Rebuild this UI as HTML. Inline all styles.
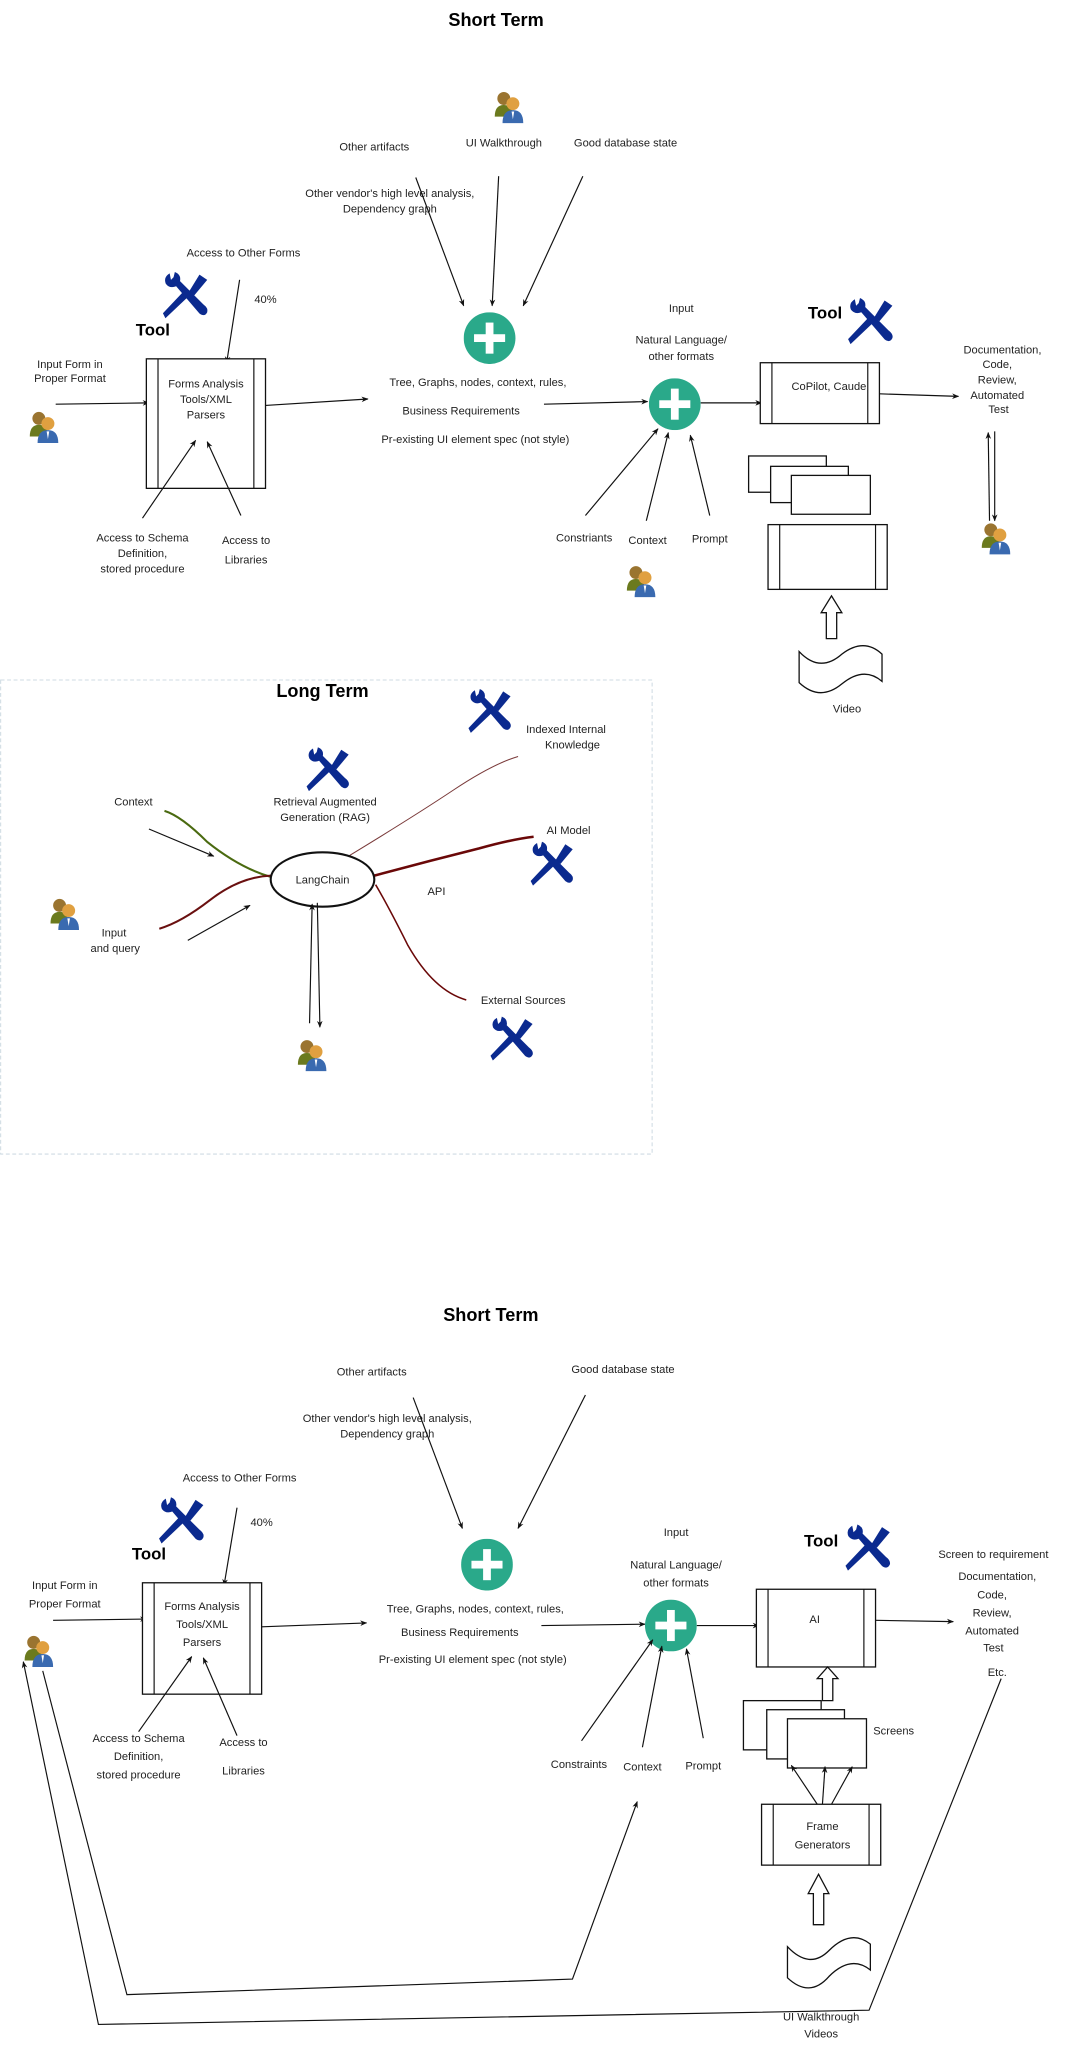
<!DOCTYPE html>
<html><head><meta charset="utf-8"><style>
html,body{margin:0;padding:0;background:#fff;}
svg{display:block;}
text{font-family:"Liberation Sans",sans-serif;font-size:8.6px;fill:#222;text-anchor:middle;}
.t{font-weight:bold;font-size:14px;fill:#000;}
.tool{font-weight:bold;font-size:13px;fill:#000;}
.ln{stroke:#111;stroke-width:0.9;fill:none;}
.bx{stroke:#111;stroke-width:1;fill:#fff;}
</style></head><body>
<svg width="1075" height="2053" viewBox="0 0 830 1585" xmlns="http://www.w3.org/2000/svg">
<defs>
<marker id="ah" viewBox="0 0 10 10" refX="9" refY="5" markerWidth="6" markerHeight="6" orient="auto"><path d="M0,1 L10,5 L0,9 L3,5 z" fill="#111"/></marker>
<symbol id="user" viewBox="0 0 24 26"><circle cx="8" cy="6" r="5" fill="#9a7430"/><path d="M1,20 Q1,11 8,11 Q15,11 15,20 z" fill="#6b7a1e"/><circle cx="15" cy="10" r="5" fill="#e0a040"/><path d="M7,25 Q7,15 15,15 Q23,15 23,25 z" fill="#3a6ab0"/><path d="M14,16 L15,22 L16,16z" fill="#fff"/></symbol>
<symbol id="tool" viewBox="0 0 40 40"><path d="M30,4 L36,8 L26,20 L22,17 z" fill="#0b2a8f"/><path d="M23,18 L4,36 L3,34 L20,16 z" fill="#0b2a8f" stroke="#0b2a8f" stroke-width="2"/><path d="M7,3 Q2,6 4,11 Q7,15 12,13 L30,34 Q34,37 36,33 Q37,30 33,27 L15,9 Q16,4 11,2 L10,6 L8,8 z" fill="#0b2a8f"/></symbol>
<symbol id="plus" viewBox="0 0 40 40"><circle cx="20" cy="20" r="20" fill="#2aa98a"/><rect x="17" y="8" width="6" height="24" fill="#fff"/><rect x="8" y="17" width="24" height="6" fill="#fff"/></symbol>
</defs>

<!-- TOP SHORT TERM -->
<g>
<text x="383" y="20" class="t">Short Term</text>
<use href="#user" x="381" y="70" width="24" height="26"/>
<text x="289" y="116">Other artifacts</text>
<text x="389" y="113">UI Walkthrough</text>
<text x="483" y="113">Good database state</text>
<text x="301" y="152">Other vendor's high level analysis,</text>
<text x="301" y="164">Dependency graph</text>
<line class="ln" x1="321" y1="137" x2="358" y2="236" marker-end="url(#ah)"/>
<line class="ln" x1="385" y1="136" x2="380" y2="236" marker-end="url(#ah)"/>
<line class="ln" x1="450" y1="136" x2="404" y2="236" marker-end="url(#ah)"/>
<use href="#plus" x="358" y="241" width="40" height="40"/>
<text x="188" y="198">Access to Other Forms</text>
<text x="205" y="234">40%</text>
<line class="ln" x1="185" y1="216" x2="175" y2="280" marker-end="url(#ah)"/>
<use href="#tool" x="124" y="208" width="40" height="40"/>
<text x="118" y="259" class="tool">Tool</text>
<text x="54" y="284">Input Form in</text>
<text x="54" y="295">Proper Format</text>
<use href="#user" x="22" y="317" width="24" height="26"/>
<line class="ln" x1="43" y1="312" x2="115" y2="311" marker-end="url(#ah)"/>
<g><rect class="bx" x="113" y="277" width="92" height="100"/><line class="ln" x1="122" y1="277" x2="122" y2="377"/><line class="ln" x1="196" y1="277" x2="196" y2="377"/>
<text x="159" y="299">Forms Analysis</text><text x="159" y="311">Tools/XML</text><text x="159" y="323">Parsers</text></g>
<line class="ln" x1="110" y1="400" x2="151" y2="340" marker-end="url(#ah)"/>
<line class="ln" x1="186" y1="398" x2="160" y2="341" marker-end="url(#ah)"/>
<text x="110" y="418">Access to Schema</text><text x="110" y="430">Definition,</text><text x="110" y="442">stored procedure</text>
<text x="190" y="420">Access to</text><text x="190" y="435">Libraries</text>
<line class="ln" x1="205" y1="313" x2="284" y2="308" marker-end="url(#ah)"/>
<text x="369" y="298">Tree, Graphs, nodes, context, rules,</text>
<text x="356" y="320">Business Requirements</text>
<text x="367" y="342">Pr-existing UI element spec (not style)</text>
<line class="ln" x1="420" y1="312" x2="500" y2="310" marker-end="url(#ah)"/>
<text x="526" y="241">Input</text>
<text x="526" y="265">Natural Language/</text><text x="526" y="278">other formats</text>
<use href="#plus" x="501" y="292" width="40" height="40"/>
<line class="ln" x1="452" y1="398" x2="508" y2="331" marker-end="url(#ah)"/>
<line class="ln" x1="499" y1="402" x2="516" y2="334" marker-end="url(#ah)"/>
<line class="ln" x1="548" y1="398" x2="533" y2="336" marker-end="url(#ah)"/>
<text x="451" y="418">Constriants</text>
<text x="500" y="420">Context</text>
<text x="548" y="419">Prompt</text>
<use href="#user" x="483" y="436" width="24" height="26"/>
<line class="ln" x1="541" y1="311" x2="588" y2="311" marker-end="url(#ah)"/>
<text x="637" y="246" class="tool">Tool</text>
<use href="#tool" x="653" y="228" width="40" height="40"/>
<g><rect class="bx" x="587" y="280" width="92" height="47"/><line class="ln" x1="596" y1="280" x2="596" y2="327"/><line class="ln" x1="670" y1="280" x2="670" y2="327"/><text x="640" y="301">CoPilot, Caude</text></g>
<line class="ln" x1="679" y1="304" x2="740" y2="306" marker-end="url(#ah)"/>
<text x="774" y="273">Documentation,</text><text x="770" y="284">Code,</text><text x="770" y="296">Review,</text><text x="770" y="308">Automated</text><text x="771" y="319">Test</text>
<line class="ln" x1="768" y1="333" x2="768" y2="402" marker-end="url(#ah)"/>
<line class="ln" x1="764" y1="402" x2="763" y2="334" marker-end="url(#ah)"/>
<use href="#user" x="757" y="403" width="24" height="26"/>
<g><rect class="bx" x="578" y="352" width="60" height="28"/><rect class="bx" x="595" y="360" width="60" height="28"/><rect class="bx" x="611" y="367" width="61" height="30"/></g>
<g><rect class="bx" x="593" y="405" width="92" height="50"/><line class="ln" x1="602" y1="405" x2="602" y2="455"/><line class="ln" x1="676" y1="405" x2="676" y2="455"/></g>
<path class="bx" d="M638,493 L638,473 L634,473 L642,460 L650,473 L646,473 L646,493 z"/>
<path class="bx" d="M617,503 Q633,520 650,505 Q667,492 681,505 L681,526 Q667,514 650,528 Q633,542 617,527 z"/>
<text x="654" y="550">Video</text>
</g>

<!-- LONG TERM -->
<g>
<rect x="0.5" y="525" width="503" height="366" fill="none" stroke="#cfdbe3" stroke-width="0.8" stroke-dasharray="3,2"/>
<text x="249" y="538" class="t">Long Term</text>
<use href="#tool" x="360" y="530" width="38" height="38"/>
<text x="437" y="566">Indexed Internal</text><text x="442" y="578">Knowledge</text>
<use href="#tool" x="235" y="575" width="38" height="38"/>
<text x="251" y="622">Retrieval Augmented</text><text x="251" y="634">Generation (RAG)</text>
<text x="103" y="622">Context</text>
<text x="88" y="723">Input</text><text x="89" y="735">and query</text>
<use href="#user" x="38" y="693" width="24" height="26"/>
<path d="M127,626 Q140,630 160,650 Q185,670 209,677" stroke="#4a6a10" stroke-width="1.6" fill="none"/>
<path d="M123,717 Q140,712 162,695 Q185,677 209,676" stroke="#6a1010" stroke-width="1.6" fill="none"/>
<line class="ln" x1="115" y1="640" x2="165" y2="661" marker-end="url(#ah)"/>
<line class="ln" x1="145" y1="726" x2="193" y2="699" marker-end="url(#ah)"/>
<path d="M269,661 Q320,630 350,610 Q380,590 400,584" stroke="#7a3a3a" stroke-width="0.8" fill="none"/>
<path d="M289,676 Q330,665 370,655 Q395,648 412,646" stroke="#6a0808" stroke-width="2" fill="none"/>
<path d="M290,683 Q300,700 315,730 Q335,765 360,772" stroke="#6a0808" stroke-width="1.2" fill="none"/>
<g><ellipse cx="249" cy="679" rx="40" ry="21" fill="#fff" stroke="#111" stroke-width="1.6"/><text x="249" y="682">LangChain</text></g>
<text x="439" y="644">AI Model</text>
<use href="#tool" x="408" y="648" width="38" height="38"/>
<text x="337" y="691">API</text>
<text x="404" y="775">External Sources</text>
<use href="#tool" x="377" y="783" width="38" height="38"/>
<line class="ln" x1="239" y1="790" x2="241" y2="698" marker-end="url(#ah)"/>
<line class="ln" x1="245" y1="697" x2="247" y2="793" marker-end="url(#ah)"/>
<use href="#user" x="229" y="802" width="24" height="26"/>
</g>

<!-- BOTTOM SHORT TERM -->
<g>
<text x="379" y="1020" class="t">Short Term</text>
<text x="287" y="1062">Other artifacts</text>
<text x="481" y="1060">Good database state</text>
<text x="299" y="1098">Other vendor's high level analysis,</text>
<text x="299" y="1110">Dependency graph</text>
<line class="ln" x1="319" y1="1079" x2="357" y2="1180" marker-end="url(#ah)"/>
<line class="ln" x1="452" y1="1077" x2="400" y2="1180" marker-end="url(#ah)"/>
<use href="#plus" x="356" y="1188" width="40" height="40"/>
<text x="185" y="1144">Access to Other Forms</text>
<text x="202" y="1178">40%</text>
<line class="ln" x1="183" y1="1164" x2="173" y2="1224" marker-end="url(#ah)"/>
<use href="#tool" x="121" y="1154" width="40" height="40"/>
<text x="115" y="1204" class="tool">Tool</text>
<text x="50" y="1227">Input Form in</text>
<text x="50" y="1241">Proper Format</text>
<use href="#user" x="18" y="1262" width="24" height="26"/>
<line class="ln" x1="41" y1="1251" x2="113" y2="1250" marker-end="url(#ah)"/>
<g><rect class="bx" x="110" y="1222" width="92" height="86"/><line class="ln" x1="119" y1="1222" x2="119" y2="1308"/><line class="ln" x1="193" y1="1222" x2="193" y2="1308"/>
<text x="156" y="1243">Forms Analysis</text><text x="156" y="1257">Tools/XML</text><text x="156" y="1271">Parsers</text></g>
<line class="ln" x1="107" y1="1337" x2="148" y2="1279" marker-end="url(#ah)"/>
<line class="ln" x1="183" y1="1340" x2="157" y2="1280" marker-end="url(#ah)"/>
<text x="107" y="1345">Access to Schema</text><text x="107" y="1359">Definition,</text><text x="107" y="1373">stored procedure</text>
<text x="188" y="1348">Access to</text><text x="188" y="1370">Libraries</text>
<line class="ln" x1="202" y1="1256" x2="283" y2="1253" marker-end="url(#ah)"/>
<text x="367" y="1245">Tree, Graphs, nodes, context, rules,</text>
<text x="355" y="1263">Business Requirements</text>
<text x="365" y="1284">Pr-existing UI element spec (not style)</text>
<line class="ln" x1="418" y1="1255" x2="498" y2="1254" marker-end="url(#ah)"/>
<text x="522" y="1186">Input</text>
<text x="522" y="1211">Natural Language/</text><text x="522" y="1225">other formats</text>
<use href="#plus" x="498" y="1235" width="40" height="40"/>
<line class="ln" x1="449" y1="1344" x2="504" y2="1266" marker-end="url(#ah)"/>
<line class="ln" x1="496" y1="1349" x2="511" y2="1271" marker-end="url(#ah)"/>
<line class="ln" x1="543" y1="1342" x2="530" y2="1273" marker-end="url(#ah)"/>
<text x="447" y="1365">Constraints</text>
<text x="496" y="1367">Context</text>
<text x="543" y="1366">Prompt</text>
<line class="ln" x1="538" y1="1255" x2="586" y2="1255" stroke-width="1.3" marker-end="url(#ah)"/>
<text x="634" y="1194" class="tool">Tool</text>
<use href="#tool" x="651" y="1175" width="40" height="40"/>
<g><rect class="bx" x="584" y="1227" width="92" height="60"/><line class="ln" x1="593" y1="1227" x2="593" y2="1287"/><line class="ln" x1="667" y1="1227" x2="667" y2="1287"/><text x="629" y="1253">AI</text></g>
<line class="ln" x1="676" y1="1251" x2="736" y2="1252" marker-end="url(#ah)"/>
<text x="767" y="1203">Screen to requirement</text>
<text x="770" y="1220">Documentation,</text><text x="766" y="1234">Code,</text><text x="766" y="1248">Review,</text><text x="766" y="1262">Automated</text><text x="767" y="1275">Test</text><text x="770" y="1294">Etc.</text>
<path class="bx" d="M635,1313 L635,1296 L631,1296 L639,1287 L647,1296 L643,1296 L643,1313 z"/>
<g><rect class="bx" x="574" y="1313" width="60" height="38"/><rect class="bx" x="592" y="1320" width="60" height="38"/><rect class="bx" x="608" y="1327" width="61" height="38"/></g>
<text x="690" y="1339">Screens</text>
<line class="ln" x1="631" y1="1393" x2="611" y2="1363" marker-end="url(#ah)"/>
<line class="ln" x1="635" y1="1393" x2="637" y2="1364" marker-end="url(#ah)"/>
<line class="ln" x1="642" y1="1393" x2="658" y2="1364" marker-end="url(#ah)"/>
<g><rect class="bx" x="588" y="1393" width="92" height="47"/><line class="ln" x1="597" y1="1393" x2="597" y2="1440"/><line class="ln" x1="671" y1="1393" x2="671" y2="1440"/><text x="635" y="1413">Frame</text><text x="635" y="1427">Generators</text></g>
<path class="bx" d="M628,1486 L628,1462 L624,1462 L632,1447 L640,1462 L636,1462 L636,1486 z"/>
<path class="bx" d="M608,1503 Q625,1521 640,1506 Q657,1489 672,1501 L672,1521 Q657,1509 640,1526 Q625,1543 608,1527 z"/>
<text x="634" y="1560">UI Walkthrough</text>
<text x="634" y="1573">Videos</text>
<polyline class="ln" points="33,1290 98,1540 442,1528 492,1391" marker-end="url(#ah)"/>
<polyline class="ln" points="773,1296 671,1552 76,1563 18,1283" marker-end="url(#ah)"/>
</g>
</svg>
</body></html>
